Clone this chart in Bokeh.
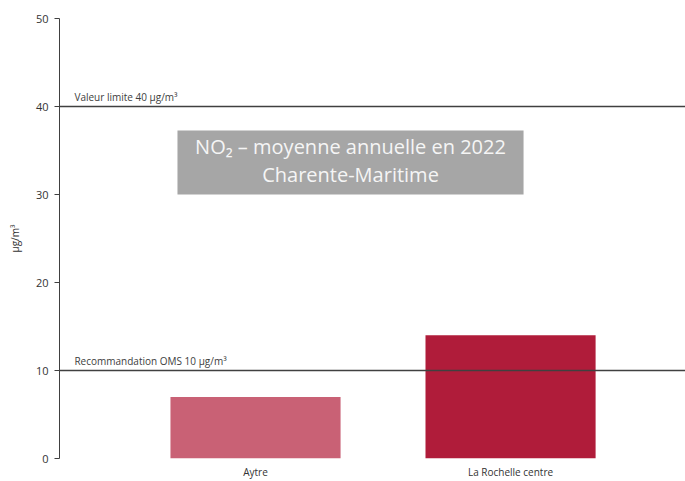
from bokeh.plotting import figure
from bokeh.models import ColumnDataSource, Span, Label, BoxAnnotation, FixedTicker, Range1d
from bokeh.embed import file_html
from bokeh.resources import INLINE

categories = ["Aytre", "La Rochelle centre"]
values = [7, 14]
colors = ["#C96175", "#B01C3A"]
y_ticks = [0, 10, 20, 30, 40, 50]
limit_value = 40
oms_value = 10
limit_text = "Valeur limite 40 µg/m³"
oms_text = "Recommandation OMS 10 µg/m³"
title_lines = ["NO₂ – moyenne annuelle en 2022", "Charente-Maritime"]
y_label = "µg/m³"

FONT = "Open Sans"

xs = [i + 1 for i in range(len(categories))]
src = ColumnDataSource(dict(x=xs, top=values, color=colors, name=categories))

p = figure(width=685, height=481, output_backend="svg", toolbar_location=None,
           x_range=Range1d(0.2314, 2.686), y_range=Range1d(0, 50),
           min_border_left=59, min_border_top=18, min_border_right=0, min_border_bottom=23)
p.outline_line_color = None
p.grid.visible = False
p.background_fill_color = "white"

p.vbar(x="x", top="top", bottom=0, width=0.667, color="color", source=src, line_color=None)

# reference lines
for v, t in [(limit_value, limit_text), (oms_value, oms_text)]:
    p.add_layout(Span(location=v, dimension="width", line_color="#404040", line_width=1.5))
    p.add_layout(Label(x=0.29, y=v, text=t, text_font=FONT, text_font_size="10px",
                       text_color="#404040", y_offset=3, text_baseline="bottom"))

# title box
p.add_layout(BoxAnnotation(left=0.694, right=2.051, bottom=30, top=37.27,
                           fill_color="#A6A6A6", fill_alpha=1, line_color=None, level="overlay"))
p.add_layout(Label(x=1.3725, y=35.45, text=title_lines[0], text_font=FONT, text_font_size="20px",
                   text_color="#F5F5F5", text_align="center", text_baseline="middle", level="overlay"))
p.add_layout(Label(x=1.3725, y=32.27, text=title_lines[1], text_font=FONT, text_font_size="20px",
                   text_color="#F5F5F5", text_align="center", text_baseline="middle", level="overlay"))

# y axis
p.yaxis.ticker = FixedTicker(ticks=y_ticks)
p.yaxis.minor_tick_line_color = None
p.yaxis.major_tick_out = 5
p.yaxis.major_tick_in = 0
p.yaxis.axis_line_color = "#404040"
p.yaxis.major_tick_line_color = "#404040"
p.yaxis.major_label_text_font = FONT
p.yaxis.major_label_text_font_size = "11px"
p.yaxis.major_label_text_color = "#333333"
p.yaxis.major_label_standoff = 6
p.yaxis.axis_label = y_label
p.yaxis.axis_label_text_font = FONT
p.yaxis.axis_label_text_font_size = "10px"
p.yaxis.axis_label_text_font_style = "normal"
p.yaxis.axis_label_text_color = "#333333"
p.yaxis.axis_label_standoff = 11

# x axis
p.xaxis.ticker = FixedTicker(ticks=xs)
p.xaxis.major_label_overrides = {x: c for x, c in zip(xs, categories)}
p.xaxis.axis_line_color = None
p.xaxis.major_tick_line_color = None
p.xaxis.minor_tick_line_color = None
p.xaxis.major_tick_out = 0
p.xaxis.major_label_standoff = 6
p.xaxis.major_label_text_font = FONT
p.xaxis.major_label_text_font_size = "10px"
p.xaxis.major_label_text_color = "#333333"

open("out.html", "w").write(file_html(p, INLINE))
